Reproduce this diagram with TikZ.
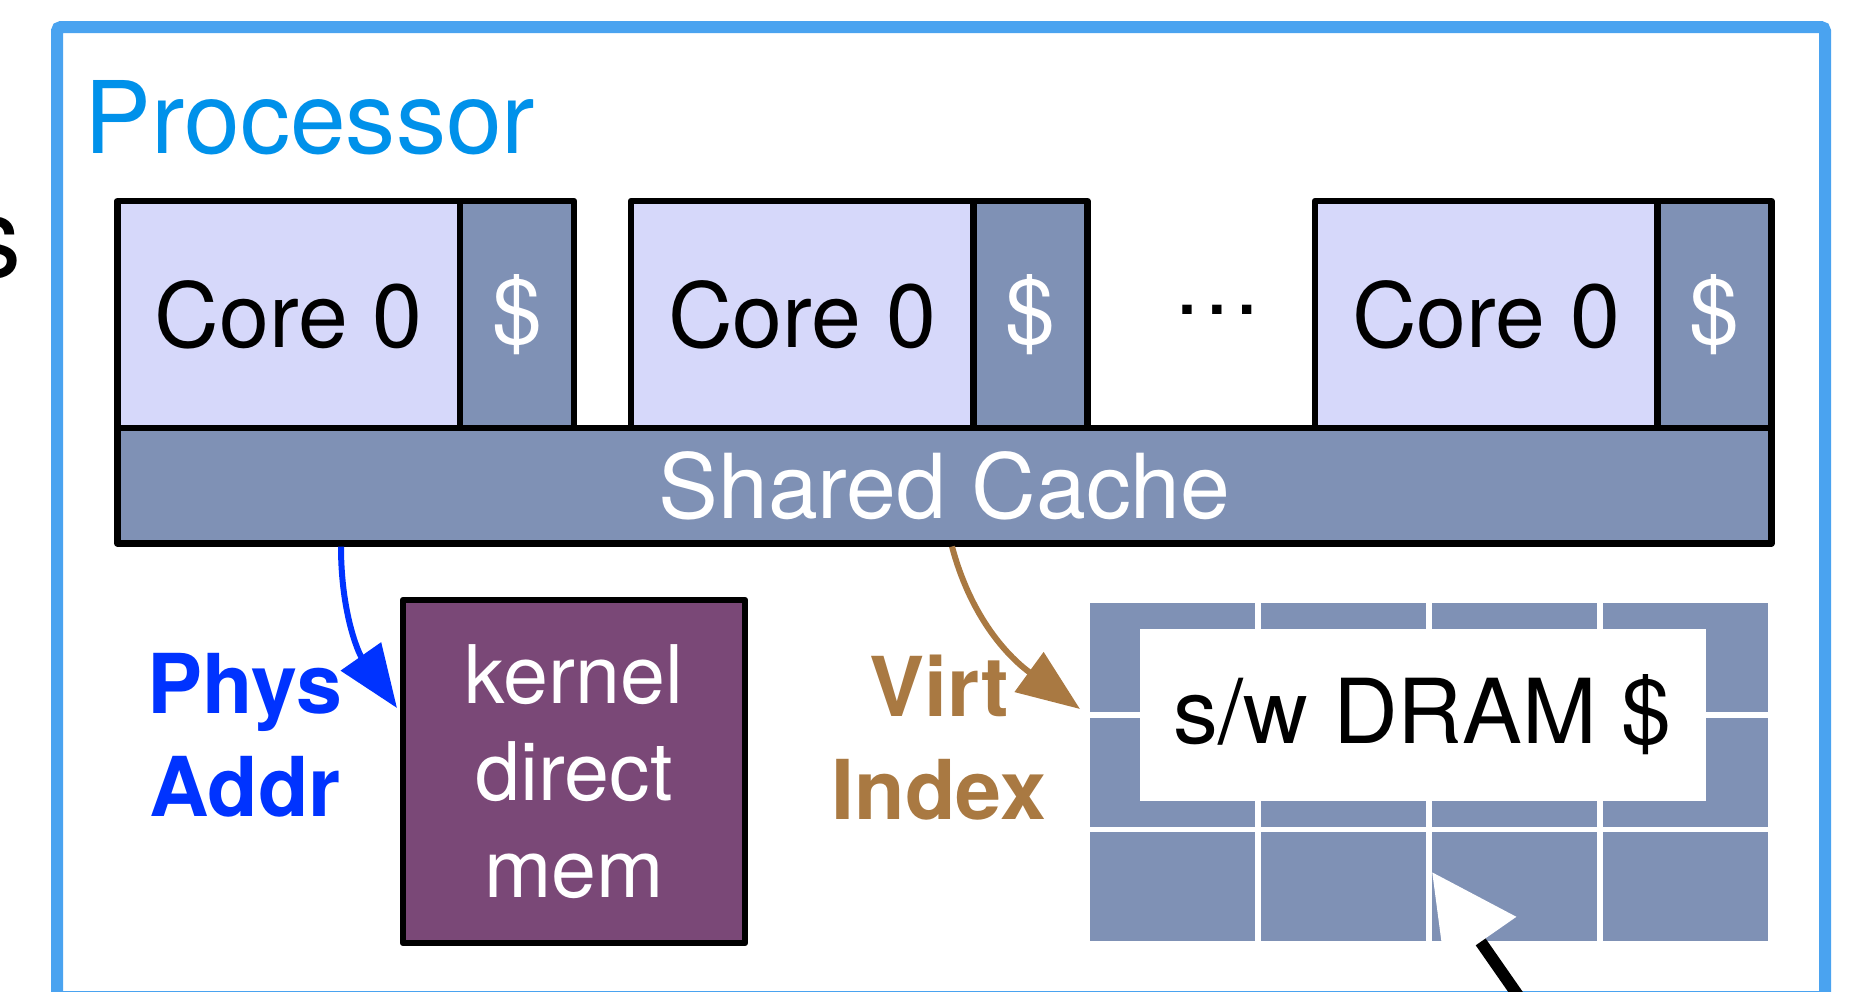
\documentclass[tikz,border=0pt]{standalone}
\usepackage{fontspec}
\setmainfont{TeX Gyre Heros}
\usetikzlibrary{arrows.meta, positioning}

\definecolor{frameblue}{RGB}{74,163,240}
\definecolor{procblue}{RGB}{0,145,234}
\definecolor{corefill}{RGB}{214,216,250}
\definecolor{cachefill}{RGB}{127,145,181}
\definecolor{kernfill}{RGB}{122,72,119}
\definecolor{physblue}{RGB}{0,51,255}
\definecolor{virtbrown}{RGB}{169,121,66}

\begin{document}
\begin{tikzpicture}[x=0.1mm, y=0.1mm,
    box/.style={draw, line width=0.65mm, line join=round, inner sep=0pt, outer sep=0pt, font=\fontsize{25.5}{30}\selectfont},
    core/.style={box, fill=corefill, minimum width=3.425cm, minimum height=2.27cm},
    priv/.style={box, fill=cachefill, text=white, minimum width=1.14cm, minimum height=2.27cm},
    cell/.style={fill=cachefill, inner sep=0pt, outer sep=0pt, minimum width=1.65cm, minimum height=1.09cm, anchor=north west},
    tag/.style={align=center, inner sep=0pt, anchor=north, font=\fontsize{23.5}{29.3}\selectfont\bfseries},
    ptr/.style={line width=0.6mm, -{Triangle[length=6.3mm, width=4.8mm]}}]
  \useasboundingbox (0,0) rectangle (1851,-991);
  \clip (0,0) rectangle (1851,-991);

  % processor outline
  \draw[frameblue, line width=1.2mm, rounded corners=0.4mm] (57,-27) rectangle (1825,-997);
  \node[anchor=base west, inner sep=0pt, text=procblue, font=\fontsize{28.5}{34}\selectfont] (proc) at (84,-153) {Processor};
  \node[anchor=base east, inner sep=0pt, font=\fontsize{32}{38}\selectfont] (cut) at (22,-277) {s};

  % cores with private caches
  \node[core, anchor=north west] (core1) at (117.5,-201) {Core 0};
  \node[priv] (priv1) [right=0cm of core1] {\$};
  \node[core] (core2) [right=0.57cm of priv1] {Core 0};
  \node[priv] (priv2) [right=0cm of core2] {\$};
  \node[core] (core3) [right=2.275cm of priv2] {Core 0};
  \node[priv] (priv3) [right=0cm of core3] {\$};
  \node[anchor=base, inner sep=0pt, font=\fontsize{25.5}{30}\selectfont] (dots) at (1217,-314) {\textellipsis};
  \node[box, fill=cachefill, text=white, anchor=north west, minimum width=16.54cm, minimum height=1.155cm] (shared) at (core1.south west) {Shared Cache};

  % kernel direct map
  \node[box, fill=kernfill, text=white, align=center, minimum width=3.42cm, minimum height=3.43cm, font=\fontsize{23}{27.6}\selectfont] (kbox) [below right=0.565cm and 2.855cm of shared.south west] {kernel\\direct\\mem};
  \node[tag, text=physblue] (phys) at (245,-653) {Phys\\Addr};

  % software dram cache
  \node[inner sep=0pt, outer sep=0pt, minimum width=6.78cm, minimum height=3.38cm] (grid) [below right=0.595cm and 9.725cm of shared.south west] {};
  \foreach \i in {0,...,3}
    \foreach \j in {0,1,2}
      \node[cell] (cell\i\j) at ([xshift=\i*1.71cm, yshift=-\j*1.145cm]grid.north west) {};
  \node[fill=white, inner sep=0pt, minimum width=5.66cm, minimum height=1.72cm, font=\fontsize{25.5}{30}\selectfont] (dram) [below right=0.25cm and 0.49cm of grid.north west] {s/w DRAM \$};
  \node[tag, text=virtbrown] (virt) at (939,-654) {Virt\\Index};

  % lookups
  \draw[ptr, physblue] ([xshift=2.235cm, yshift=-0.3mm]shared.south west) to[out=-90, in=125] ([xshift=-0.6mm, yshift=-1.08cm]kbox.north west);
  \draw[ptr, virtbrown] ([xshift=8.345cm, yshift=-0.3mm]shared.south west) to[out=-75, in=144] ([xshift=-1mm, yshift=-1.06cm]grid.north west);

  % pointer from below
  \coordinate (tail) at (1549,-1040);
  \coordinate (hit) at ([xshift=3.42cm, yshift=-2.69cm]grid.north west);
  \draw[line width=1.2mm, -{Triangle[length=8.5mm, width=8.4mm, color=white]}] (tail) -- (hit);
\end{tikzpicture}
\end{document}
